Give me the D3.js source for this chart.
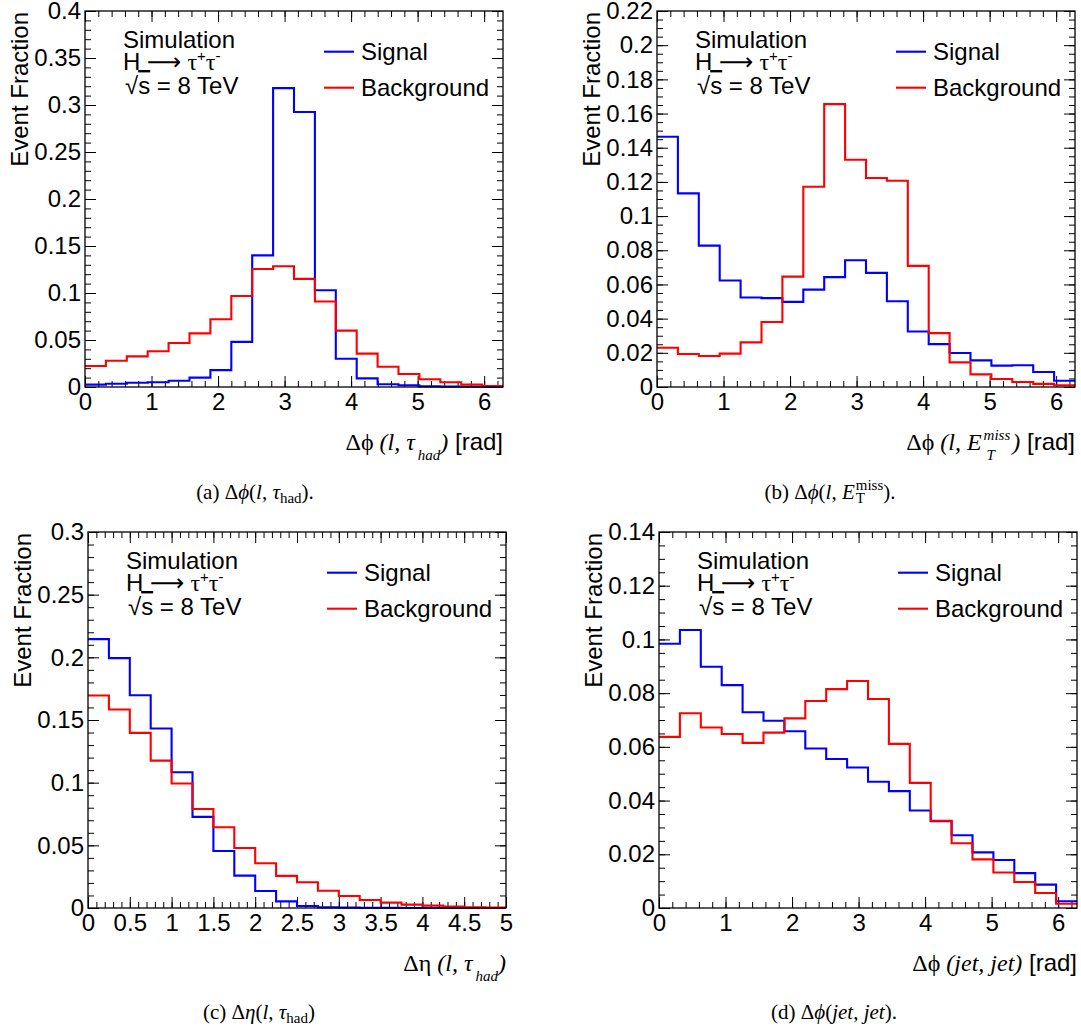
<!DOCTYPE html>
<html>
<head>
<meta charset="utf-8">
<script src="https://cdn.jsdelivr.net/npm/d3@7"></script>
<style>
body { margin: 0; background: #fff; }
svg { display: block; }
text { font-family: "Liberation Sans", Arial, sans-serif; fill: #000; }
.serif { font-family: "Liberation Serif", "Times New Roman", serif; }
.it { font-style: italic; }
</style>
</head>
<body>
<svg id="fig" width="1081" height="1030"></svg>
<script>
var TWO_PI = 2 * Math.PI;

// values per bin (20 bins each)
var sigA = [0.0025, 0.0035, 0.0046, 0.005, 0.0067, 0.010, 0.018, 0.048, 0.140, 0.318,
            0.2925, 0.103, 0.030, 0.0092, 0.003, 0.0018, 0.0007, 0.0004, 0.0002, 0.0001];
var bkgA = [0.0223, 0.028, 0.0326, 0.038, 0.0468, 0.057, 0.072, 0.0968, 0.1255, 0.1284,
            0.115, 0.091, 0.060, 0.0355, 0.0216, 0.0138, 0.0082, 0.005, 0.0025, 0.001];

var sigB = [0.1464, 0.1133, 0.0827, 0.0623, 0.0524, 0.052, 0.0498, 0.057, 0.0643, 0.0742,
            0.0668, 0.0502, 0.0325, 0.0251, 0.0199, 0.0156, 0.0125, 0.0127, 0.0088, 0.0037];
var bkgB = [0.023, 0.0193, 0.0181, 0.0195, 0.0261, 0.038, 0.0646, 0.1172, 0.1655, 0.133,
            0.1223, 0.1207, 0.0709, 0.0315, 0.0144, 0.0074, 0.0047, 0.0029, 0.0018, 0.001];

var sigC = [0.2145, 0.1994, 0.1698, 0.1432, 0.1083, 0.0727, 0.0455, 0.0258, 0.0136, 0.0053,
            0.0016, 0.0005, 0.0003, 0.0001, 0.0001, 0, 0, 0, 0, 0];
var bkgC = [0.1696, 0.1584, 0.1397, 0.1176, 0.0993, 0.079, 0.0644, 0.0479, 0.0357, 0.0256,
            0.0205, 0.0138, 0.0096, 0.0064, 0.0043, 0.0027, 0.0019, 0.0011, 0.0005, 0.0003];

var sigD = [0.0984, 0.1035, 0.0898, 0.083, 0.0729, 0.0697, 0.0658, 0.0594, 0.0555, 0.0523,
            0.047, 0.0435, 0.0363, 0.0323, 0.0271, 0.0207, 0.0179, 0.013, 0.0087, 0.0025];
var bkgD = [0.0637, 0.0725, 0.0672, 0.0648, 0.0615, 0.0653, 0.0706, 0.0771, 0.0815, 0.0845,
            0.0778, 0.0611, 0.0466, 0.0325, 0.0241, 0.0181, 0.0132, 0.0097, 0.0056, 0.0016];

// tick values
var phiTicks = [0, 1, 2, 3, 4, 5, 6];
var etaTicks = [0, 0.5, 1, 1.5, 2, 2.5, 3, 3.5, 4, 4.5, 5];
var yTicksA = [0, 0.05, 0.1, 0.15, 0.2, 0.25, 0.3, 0.35, 0.4];
var yTicksB = [0, 0.02, 0.04, 0.06, 0.08, 0.1, 0.12, 0.14, 0.16, 0.18, 0.2, 0.22];
var yTicksC = [0, 0.05, 0.1, 0.15, 0.2, 0.25, 0.3];
var yTicksD = [0, 0.02, 0.04, 0.06, 0.08, 0.1, 0.12, 0.14];

var legendNames = ["Signal", "Background"];
var colors = ["#0000ff", "#ff0000"];

var svg = d3.select("#fig");
var w = 418, h = 376;

var panels = [
    {left: 85, top: 11, xMax: TWO_PI, yMax: 0.4, xTicks: phiTicks, xMinor: 0.2, yTicks: yTicksA, yMinor: 0.01,
     sig: sigA, bkg: bkgA, title: "a", capX: 255, capY: 499},
    {left: 657, top: 11, xMax: TWO_PI, yMax: 0.22, xTicks: phiTicks, xMinor: 0.2, yTicks: yTicksB, yMinor: 0.005,
     sig: sigB, bkg: bkgB, title: "b", capX: 830, capY: 499},
    {left: 88, top: 532, xMax: 5, yMax: 0.3, xTicks: etaTicks, xMinor: 0.1, yTicks: yTicksC, yMinor: 0.01,
     sig: sigC, bkg: bkgC, title: "c", capX: 259, capY: 1019},
    {left: 659, top: 532, xMax: TWO_PI, yMax: 0.14, xTicks: phiTicks, xMinor: 0.2, yTicks: yTicksD, yMinor: 0.005,
     sig: sigD, bkg: bkgD, title: "d", capX: 834, capY: 1019}
];

// append tspans to a text element; parts: [text, class, fontSize, dy, dx]
function addParts(text, parts) {
    parts.forEach(function(p) {
        var ts = text.append("tspan").text(p[0]);
        if (p[1]) ts.attr("class", p[1]);
        if (p[2]) ts.attr("font-size", p[2]);
        if (p[3]) ts.attr("dy", p[3]);
        if (p[4]) ts.attr("dx", p[4]);
    });
    return text;
}

function axisTitle(g, key) {
    var t = g.append("text").attr("text-anchor", "end").attr("font-size", 24);
    if (key === "a") {
        addParts(t, [["Δϕ ", "serif"], ["(l, τ", "serif it"], ["had", "serif it", 15, 10, 3], [")", "serif it", null, -10], [" [rad]"]]);
    } else if (key === "b") {
        addParts(t, [["Δϕ ", "serif"], ["(l, E", "serif it"]]);
        var sup = t.append("tspan").attr("class", "serif it").attr("font-size", 15).attr("dy", -10).attr("dx", 2).text("miss");
        var len = sup.node().getComputedTextLength();
        t.append("tspan").attr("class", "serif it").attr("font-size", 15).attr("dy", 20).attr("dx", -len + 3).text("T");
        var tl = t.select("tspan:last-child").node().getComputedTextLength();
        addParts(t, [[")", "serif it", null, -10, len - tl - 1], [" [rad]"]]);
    } else if (key === "c") {
        addParts(t, [["Δη ", "serif"], ["(l, τ", "serif it"], ["had", "serif it", 15, 10, 3], [")", "serif it", null, -10]]);
    } else {
        addParts(t, [["Δϕ ", "serif"], ["(jet, jet)", "serif it"], [" [rad]"]]);
    }
    return t;
}

function caption(g, key) {
    var t = g.append("text").attr("class", "serif").attr("text-anchor", "middle").attr("font-size", 21);
    if (key === "a") {
        addParts(t, [["(a) Δ"], ["ϕ", "serif it"], ["("], ["l", "serif it"], [", "], ["τ", "serif it"], ["had", null, 15, 4], [").", null, null, -4]]);
    } else if (key === "b") {
        addParts(t, [["(b) Δ"], ["ϕ", "serif it"], ["("], ["l", "serif it"], [", "], ["E", "serif it"]]);
        var sup = t.append("tspan").attr("font-size", 15).attr("dy", -9).attr("dx", 1).text("miss");
        var len = sup.node().getComputedTextLength();
        var sub = t.append("tspan").attr("font-size", 15).attr("dy", 13).attr("dx", -len).text("T");
        var tl = sub.node().getComputedTextLength();
        addParts(t, [[").", null, null, -4, len - tl]]);
    } else if (key === "c") {
        addParts(t, [["(c) Δ"], ["η", "serif it"], ["("], ["l", "serif it"], [", "], ["τ", "serif it"], ["had", null, 15, 4], [")", null, null, -4]]);
    } else {
        addParts(t, [["(d) Δ"], ["ϕ", "serif it"], ["("], ["jet", "serif it"], [", "], ["jet", "serif it"], [")."]]);
    }
    return t;
}

panels.forEach(function(p) {
    var g = svg.append("g").attr("transform", "translate(" + p.left + "," + p.top + ")");

    var x = d3.scaleLinear().domain([0, p.xMax]).range([0, w]);
    var y = d3.scaleLinear().domain([0, p.yMax]).range([h, 0]);

    var minorX = d3.range(0, p.xMax + 1e-9, p.xMinor).filter(function(v) { return x(v) < w - 0.5; });
    var minorY = d3.range(0, p.yMax + 1e-9, p.yMinor);
    var fmt = d3.format("~g");

    // minor ticks on all four sides
    g.append("g").call(d3.axisLeft(y).tickValues(minorY).tickSize(-6).tickFormat(""));
    g.append("g").attr("transform", "translate(" + w + ",0)").call(d3.axisRight(y).tickValues(minorY).tickSize(-6).tickFormat(""));
    g.append("g").attr("transform", "translate(0," + h + ")").call(d3.axisBottom(x).tickValues(minorX).tickSize(-6).tickFormat(""));
    g.append("g").call(d3.axisTop(x).tickValues(minorX).tickSize(-6).tickFormat(""));

    // major ticks
    g.append("g").call(d3.axisLeft(y).tickValues(p.yTicks).tickSize(-11).tickPadding(4).tickFormat(fmt));
    g.append("g").attr("transform", "translate(" + w + ",0)").call(d3.axisRight(y).tickValues(p.yTicks).tickSize(-11).tickFormat(""));
    g.append("g").attr("transform", "translate(0," + h + ")")
        .call(d3.axisBottom(x).tickValues(p.xTicks).tickSize(-11).tickPadding(6).tickFormat(fmt));
    g.append("g").call(d3.axisTop(x).tickValues(p.xTicks).tickSize(-11).tickFormat(""));

    g.selectAll(".domain").remove();
    g.selectAll(".tick line").attr("stroke", "#000").attr("stroke-width", 1);
    g.selectAll(".tick text").attr("font-size", 24).attr("font-family", '"Liberation Sans", Arial, sans-serif').attr("fill", "#000");

    // histograms
    var edges = d3.range(p.sig.length + 1).map(function(i) { return i * p.xMax / p.sig.length; });
    var step = d3.line()
        .x(function(d) { return x(d[0]); })
        .y(function(d) { return y(d[1]); })
        .curve(d3.curveStepAfter);
    [p.sig, p.bkg].forEach(function(vals, k) {
        var pts = vals.map(function(v, i) { return [edges[i], v]; });
        pts.push([edges[edges.length - 1], vals[vals.length - 1]]);
        g.append("path").datum(pts)
            .attr("d", step)
            .attr("fill", "none")
            .attr("stroke", colors[k])
            .attr("stroke-width", 2.1);
    });

    // frame
    g.append("rect").attr("width", w).attr("height", h)
        .attr("fill", "none").attr("stroke", "#000").attr("stroke-width", 1.3);

    // y title
    g.append("text")
        .attr("transform", "translate(-57,1) rotate(-90)")
        .attr("text-anchor", "end")
        .attr("font-size", 24)
        .text("Event Fraction");

    // x title
    axisTitle(g, p.title).attr("x", w).attr("y", h + 63);

    // annotation
    var ann = g.append("g").attr("font-size", 24);
    ann.append("text").attr("x", 38).attr("y", 36.5).text("Simulation");
    var hl = ann.append("text").attr("x", 38).attr("y", 59);
    addParts(hl, [["H "], ["⟶"], [" τ", "serif"], ["+", null, 15, -9], ["τ", "serif", null, 9], ["-", null, 15, -9]]);
    hl.select("tspan:nth-child(2)").style("font-family", '"DejaVu Sans", sans-serif');
    var sq = ann.append("text").attr("x", 40).attr("y", 83);
    addParts(sq, [["√"], ["s"], [" = 8 TeV"]]);
    sq.select("tspan:nth-child(2)").style("text-decoration", "overline");

    // legend
    var leg = g.append("g");
    legendNames.forEach(function(name, k) {
        var ly = 40.7 + k * 36;
        leg.append("line").attr("x1", 239).attr("x2", 269).attr("y1", ly).attr("y2", ly)
            .attr("stroke", colors[k]).attr("stroke-width", 2.1);
        leg.append("text").attr("x", 276).attr("y", ly + 8.3).attr("font-size", 24).text(name);
    });

    // caption under the sub-figure
    caption(svg, p.title).attr("x", p.capX).attr("y", p.capY);
});
</script>
</body>
</html>
